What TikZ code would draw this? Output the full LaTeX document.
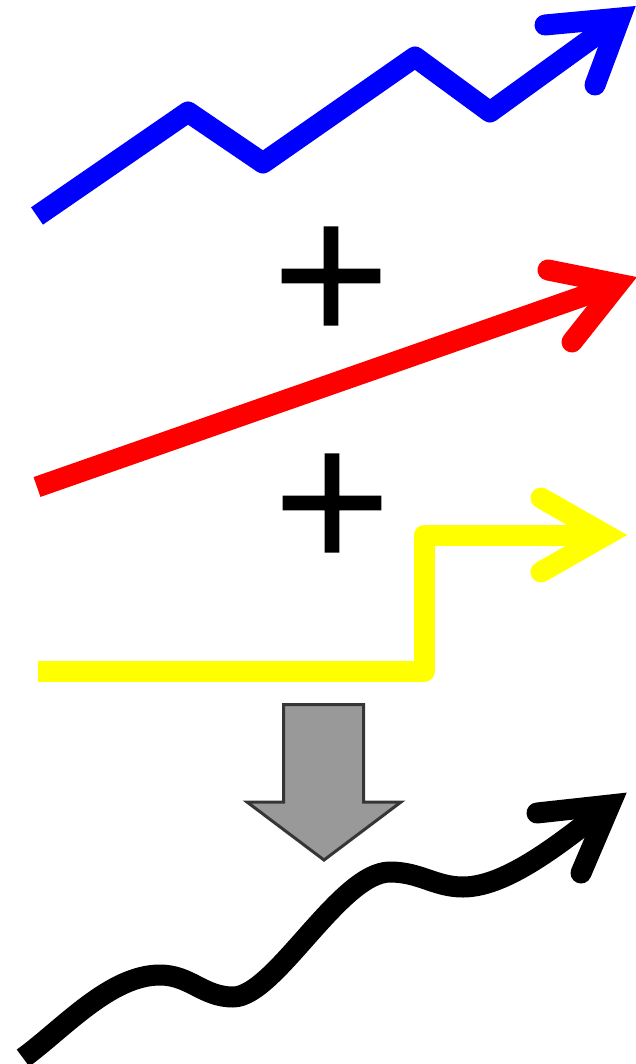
\documentclass[tikz,border=0pt]{standalone}
\usepackage{fontspec}
\newfontfamily\plusfont[FakeBold=1.2]{DejaVu Sans}
\definecolor{seasonblue}{HTML}{0000FF}
\definecolor{trendred}{HTML}{FF0000}
\definecolor{stepyellow}{HTML}{FFFF00}
\definecolor{sumgray}{HTML}{999999}
\definecolor{sumedge}{HTML}{363636}

\begin{document}
\begin{tikzpicture}[x=1pt, y=-1pt,
  series/.style={line width=21pt, line join=round},
  barb/.style={line width=21pt, line cap=round, line join=miter},
  plus/.style={font=\plusfont\fontsize{155}{155}\selectfont, inner sep=0pt},
]
\useasboundingbox (0,0) rectangle (636,1064);

% seasonal component
\coordinate (seasonTip) at (620,18);
\draw[series, seasonblue] (37,216) -- (188,112) -- (263,163) -- (415,57) -- (490,112) -- (seasonTip);
\draw[barb, seasonblue] (545,25) -- (seasonTip) -- (595,85);

\node[plus] (plusA) at (331,276) {+};

% trend component
\coordinate (trendTip) at (618,284);
\draw[series, trendred] (37,487) -- (trendTip);
\draw[barb, trendred] (548,270) -- (trendTip) -- (572,342);

\node[plus] (plusB) at (332,503) {+};

% level shift
\coordinate (stepTip) at (606,535);
\draw[series, stepyellow] (38,671) -- (424.5,671) -- (424.5,535) -- (stepTip);
\draw[barb, stepyellow] (541,498) -- (stepTip) -- (541,572);

% sum arrow
\draw[line width=3pt, draw=sumedge, fill=sumgray]
  (283.5,704.5) -- (363.5,704.5) -- (363.5,802) -- (401,802)
  -- (324,860) -- (247,802) -- (283.5,802) -- cycle;

% combined series
\coordinate (sumTip) at (610,805);
\draw[series, black] (23,1058) .. controls (63,1029) and (110,975) .. (160,975)
  .. controls (190,975) and (203,997) .. (233,997)
  .. controls (275,997) and (340,872) .. (390,872)
  .. controls (420,872) and (435,887) .. (463,887)
  .. controls (510,887) and (570,835) .. (sumTip);
\draw[barb, black] (537,813) -- (sumTip) -- (581,873);
\end{tikzpicture}
\end{document}
